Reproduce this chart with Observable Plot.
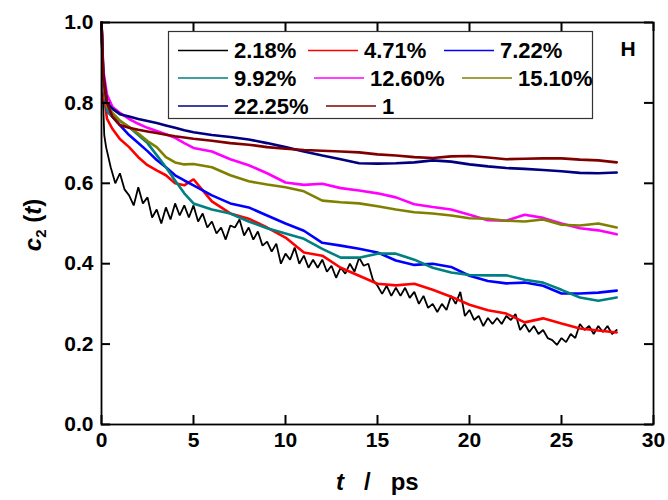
<!DOCTYPE html>
<html><head><meta charset="utf-8">
<script src="https://cdn.jsdelivr.net/npm/d3@7"></script>
<script src="https://cdn.jsdelivr.net/npm/@observablehq/plot@0.6"></script>
<style>
body{margin:0;background:#fff;}
#wrap{position:relative;width:668px;height:500px;font-family:"Liberation Sans",Arial,sans-serif;}
.ttl{position:absolute;font-weight:bold;font-size:24px;color:#000;white-space:nowrap;}
</style></head><body><div id="wrap"></div>
<script>
const seriesNames = ["2.18%","4.71%","7.22%","9.92%","12.60%","15.10%","22.25%","1"];
const seriesColors = ["#000000","#ff0000","#0000ff","#008080","#ff00ff","#808000","#000080","#800000"];
const xTicks = [0,5,10,15,20,25,30];
const yTicks = [0,0.2,0.4,0.6,0.8,1.0];

const tGrid = [0,0.1,0.3,0.6,1,1.5,2,2.5,3,3.5,4,4.5,5,6,7,8,9,10,11,12,13,14,15,16,17,18,19,20,21,22,23,24,25,26,27,28];
const v471 = [1.0,0.83,0.76,0.735,0.71,0.69,0.665,0.645,0.632,0.62,0.6,0.595,0.61,0.555,0.525,0.512,0.49,0.465,0.428,0.42,0.39,0.37,0.35,0.346,0.35,0.335,0.318,0.298,0.284,0.276,0.254,0.264,0.251,0.239,0.234,0.229];
const v722 = [1.0,0.85,0.78,0.765,0.745,0.72,0.70,0.68,0.658,0.64,0.62,0.607,0.595,0.57,0.55,0.54,0.52,0.50,0.482,0.452,0.445,0.437,0.428,0.408,0.397,0.40,0.392,0.37,0.357,0.351,0.353,0.345,0.326,0.326,0.328,0.333];
const v992 = [1.0,0.85,0.78,0.765,0.755,0.74,0.72,0.70,0.67,0.64,0.607,0.575,0.55,0.535,0.525,0.505,0.488,0.475,0.462,0.437,0.415,0.415,0.425,0.425,0.41,0.39,0.378,0.372,0.371,0.371,0.36,0.353,0.335,0.316,0.308,0.316];
const v1260 = [1.0,0.88,0.82,0.79,0.775,0.76,0.748,0.738,0.73,0.722,0.713,0.70,0.688,0.679,0.66,0.645,0.625,0.602,0.596,0.599,0.588,0.582,0.575,0.565,0.548,0.541,0.535,0.522,0.508,0.507,0.522,0.514,0.50,0.488,0.483,0.473];
const v1510 = [1.0,0.86,0.79,0.775,0.756,0.74,0.724,0.705,0.69,0.665,0.652,0.647,0.648,0.64,0.62,0.605,0.597,0.59,0.58,0.557,0.553,0.55,0.543,0.535,0.528,0.525,0.52,0.513,0.512,0.507,0.505,0.51,0.497,0.495,0.50,0.49];
const v2225 = [1.0,0.87,0.80,0.785,0.772,0.766,0.76,0.755,0.75,0.744,0.738,0.732,0.727,0.72,0.715,0.709,0.70,0.69,0.679,0.669,0.66,0.65,0.649,0.65,0.652,0.657,0.654,0.647,0.642,0.638,0.636,0.633,0.63,0.626,0.625,0.627];
const v1 = [1.0,0.86,0.80,0.765,0.745,0.738,0.733,0.729,0.725,0.721,0.717,0.714,0.711,0.706,0.700,0.696,0.690,0.686,0.683,0.681,0.679,0.677,0.672,0.669,0.665,0.663,0.667,0.668,0.664,0.660,0.661,0.662,0.662,0.659,0.657,0.652];

const tBlack = [0,0.05,0.15,0.25,0.5,0.75,1.0,1.25,1.5,1.75,2.0,2.25,2.5,2.75,3.0,3.25,3.5,3.75,4.0,4.25,4.5,4.75,5.0,5.25,5.5,5.75,6.0,6.25,6.5,6.75,7.0,7.25,7.5,7.75,8.0,8.25,8.5,8.75,9.0,9.25,9.5,9.75,10.0,10.25,10.5,10.75,11.0,11.25,11.5,11.75,12.0,12.25,12.5,12.75,13.0,13.25,13.5,13.75,14.0,14.25,14.5,14.75,15.0,15.25,15.5,15.75,16.0,16.25,16.5,16.75,17.0,17.25,17.5,17.75,18.0,18.25,18.5,18.75,19.0,19.25,19.5,19.75,20.0,20.25,20.5,20.75,21.0,21.25,21.5,21.75,22.0,22.25,22.5,22.75,23.0,23.25,23.5,23.75,24.0,24.25,24.5,24.75,25.0,25.25,25.5,25.75,26.0,26.25,26.5,26.75,27.0,27.25,27.5,27.75,28.0];
const v218 = [1.0,0.85,0.72,0.69,0.64,0.60,0.625,0.585,0.57,0.545,0.59,0.55,0.565,0.515,0.535,0.50,0.54,0.51,0.55,0.52,0.545,0.515,0.545,0.505,0.525,0.49,0.505,0.475,0.49,0.46,0.495,0.49,0.51,0.47,0.49,0.46,0.48,0.445,0.455,0.43,0.45,0.40,0.425,0.41,0.44,0.40,0.42,0.39,0.41,0.39,0.41,0.38,0.395,0.365,0.39,0.375,0.40,0.38,0.415,0.395,0.40,0.36,0.345,0.325,0.345,0.32,0.34,0.32,0.34,0.315,0.33,0.30,0.32,0.29,0.30,0.28,0.30,0.285,0.32,0.30,0.33,0.27,0.285,0.26,0.27,0.245,0.265,0.25,0.265,0.25,0.27,0.26,0.275,0.235,0.25,0.23,0.245,0.225,0.235,0.215,0.21,0.198,0.215,0.205,0.225,0.215,0.25,0.235,0.245,0.225,0.245,0.23,0.245,0.225,0.235];

const smooth = [["4.71%",v471],["7.22%",v722],["9.92%",v992],["12.60%",v1260],["15.10%",v1510],["22.25%",v2225],["1",v1]];
const rows = tBlack.map((t,i)=>({t, v:v218[i], s:"2.18%"}));
for (const [s,vals] of smooth) tGrid.forEach((t,i)=>rows.push({t, v:vals[i], s}));

const W=668,H=500,ML=101,MR=15,MT=22,MB=76,TL=9;
const innerH = H-MT-MB, innerW = W-ML-MR;

const chart = Plot.plot({
  width:W, height:H, marginLeft:ML, marginRight:MR, marginTop:MT, marginBottom:MB,
  style:{fontFamily:"'Liberation Sans', Arial, sans-serif", fontWeight:"bold", fontSize:"21px", color:"#000", background:"#fff"},
  x:{domain:[0,30]},
  y:{domain:[0,1]},
  color:{domain:seriesNames, range:seriesColors},
  marks:[
    Plot.axisX({ticks:xTicks, tickSize:0, tickPadding:8, tickFormat:d=>String(d), label:null}),
    Plot.axisY({ticks:yTicks, tickSize:0, tickPadding:8, tickFormat:d3.format(".1f"), label:null}),
    Plot.line(rows, {x:"t", y:"v", z:"s", stroke:"s", strokeWidth:d=>d.s==="2.18%"?1.8:2.6, strokeLinejoin:"miter"}),
    // inward ticks on all four sides
    Plot.tickX(xTicks, {x:d=>d, stroke:"black", strokeWidth:2, insetTop:innerH-TL}),
    Plot.tickX(xTicks, {x:d=>d, stroke:"black", strokeWidth:2, insetBottom:innerH-TL}),
    Plot.tickY(yTicks, {y:d=>d, stroke:"black", strokeWidth:2, insetRight:innerW-TL}),
    Plot.tickY(yTicks, {y:d=>d, stroke:"black", strokeWidth:2, insetLeft:innerW-TL}),
    Plot.frame({stroke:"#000", strokeWidth:1.8})
  ]
});
document.getElementById("wrap").appendChild(chart);

const svg = d3.select(chart);
// legend inside the plot
const lg = svg.append("g").attr("text-anchor","start").attr("font-family","'Liberation Sans', Arial, sans-serif").attr("font-weight","bold").attr("font-size","22px");
lg.append("rect").attr("x",168.5).attr("y",31.5).attr("width",424).attr("height",87).attr("fill","#fff").attr("stroke","#333").attr("stroke-width",1.2);
const legPos = [[178,50.5],[308,50.5],[444,50.5],[178,78],[314,78],[462,78],[178,106],[326,106]];
seriesNames.forEach((s,i)=>{
  const [x,y]=legPos[i];
  lg.append("line").attr("x1",x).attr("x2",x+50).attr("y1",y).attr("y2",y).attr("stroke",seriesColors[i]).attr("stroke-width",1.3);
  lg.append("text").attr("x",x+56).attr("y",y).attr("dy","0.36em").attr("fill","#000").text(s);
});
svg.append("text").attr("x",628).attr("y",48).attr("dy","0.36em").attr("text-anchor","middle")
  .attr("font-family","'Liberation Sans', Arial, sans-serif").attr("font-weight","bold").attr("font-size","21px").text("H");

// axis titles
const xt = document.createElement("div");
xt.className="ttl"; xt.style.left="336px"; xt.style.top="468px";
xt.innerHTML='<i>t</i>&nbsp;&nbsp;&nbsp;/&nbsp;&nbsp;&nbsp;ps';
document.getElementById("wrap").appendChild(xt);
const yt = document.createElement("div");
yt.className="ttl"; yt.style.left="34px"; yt.style.top="225px";
yt.style.transform="translate(-50%,-50%) rotate(-90deg)";
yt.innerHTML='<i>c</i><sub style="font-size:15px">2</sub>&nbsp;(<i>t</i>)';
document.getElementById("wrap").appendChild(yt);
</script></body></html>
